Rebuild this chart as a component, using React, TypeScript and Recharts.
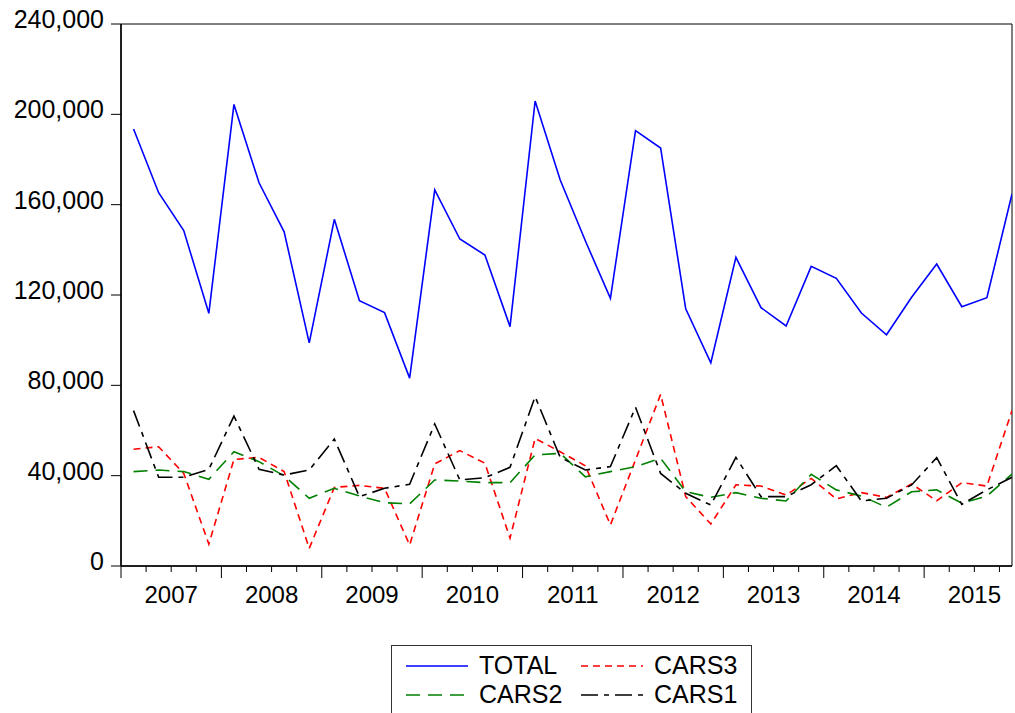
import React from 'react';
import { LineChart, Line, XAxis, YAxis, ReferenceArea, Legend } from 'recharts';

const years = ['2007', '2008', '2009', '2010', '2011', '2012', '2013', '2014', '2015'];
const quartersPerYear = 4;

const total = [
  193500, 165300, 148500, 111900, 204400, 169700, 148000, 98800,
  153500, 117500, 112200, 83200, 166500, 144800, 137700, 106000,
  205900, 170900, 144000, 118500, 192800, 185100, 113900, 90000,
  136700, 114400, 106300, 132700, 127400, 112000, 102400, 119000,
  133700, 114800, 118800, 164700,
];
const cars3 = [
  51700, 52800, 41000, 9700, 47200, 48100, 41800, 7800,
  34800, 35700, 34400, 9300, 45200, 51100, 45500, 12300,
  56500, 50600, 44400, 18200, 47000, 76000, 30700, 18600,
  35900, 35400, 31400, 38800, 29700, 32500, 30400, 36300,
  28900, 36900, 35400, 68800,
];
const cars2 = [
  41800, 42500, 41800, 38400, 50600, 46200, 39900, 30000,
  34400, 31000, 28000, 27500, 38100, 37600, 36900, 36900,
  49200, 49900, 39500, 41800, 44000, 47700, 32900, 30400,
  32500, 30000, 28800, 40600, 33700, 31000, 26000, 32900,
  33700, 27800, 31000, 40700,
];
const cars1 = [
  68800, 39300, 39300, 42800, 66400, 42800, 40300, 42500,
  56200, 30700, 34400, 36200, 62900, 38100, 39100, 43700,
  75000, 48100, 42500, 44000, 70300, 41000, 32200, 27000,
  48100, 30700, 30700, 36000, 44400, 28800, 30000, 35900,
  48000, 27300, 33700, 39300,
];
const yTicks = [0, 40000, 80000, 120000, 160000, 200000, 240000];

const series = [
  { key: 'total', name: 'TOTAL', color: '#0000ff', dash: undefined as string | undefined },
  { key: 'cars3', name: 'CARS3', color: '#ff0000', dash: '7 5' },
  { key: 'cars2', name: 'CARS2', color: '#008000', dash: '14 8' },
  { key: 'cars1', name: 'CARS1', color: '#000000', dash: '17 6 5 6' },
];

const data = total.map((v, i) => ({
  t: i,
  label: `${years[Math.floor(i / quartersPerYear)]}Q${(i % quartersPerYear) + 1}`,
  total: v,
  cars3: cars3[i],
  cars2: cars2[i],
  cars1: cars1[i],
}));

const n = data.length;
const xTicks: number[] = [];
for (let k = -1; k < n - 1; k++) xTicks.push(k + 0.5);

const FONT = '"Liberation Sans", Arial, sans-serif';

const XTick = (props: any) => {
  const { x, y, payload } = props;
  const v = payload.value as number;
  const isMajor = Math.abs(((v + 0.5) % quartersPerYear)) < 1e-6;
  const isCenter = Math.abs(((v - 1.5) % quartersPerYear)) < 1e-6;
  const yr = isCenter ? years[Math.round((v - 1.5) / quartersPerYear)] : null;
  return (
    <g>
      <line x1={x} y1={y} x2={x} y2={y + (isMajor ? 12 : 6)} stroke="#000" strokeWidth={1} />
      {yr && (
        <text x={x} y={y + 37} textAnchor="middle" fontSize={24} fontFamily={FONT} fill="#000">
          {yr}
        </text>
      )}
    </g>
  );
};

const YTick = (props: any) => {
  const { x, y, payload } = props;
  return (
    <text x={x} y={y + 4} textAnchor="end" fontSize={25} fontFamily={FONT} fill="#000">
      {Number(payload.value).toLocaleString('en-US')}
    </text>
  );
};

const LegendBox = () => {
  const cols = [14, 189];
  const rows = [19, 48];
  return (
    <div style={{ width: 361, height: 80, border: '1.5px solid #333', boxSizing: 'border-box', background: '#fff' }}>
      <svg width={358} height={77} style={{ display: 'block' }}>
        {series.map((s, i) => {
          const cx = cols[i % 2];
          const cy = rows[Math.floor(i / 2)];
          return (
            <g key={s.key}>
              <line x1={cx} y1={cy + 1} x2={cx + 62} y2={cy + 1} stroke={s.color} strokeWidth={1.5} strokeDasharray={s.dash} />
              <text x={cx + 73} y={cy + 9} fontSize={25} fontFamily={FONT} fill="#000">
                {s.name}
              </text>
            </g>
          );
        })}
      </svg>
    </div>
  );
};

export default function App() {
  return (
    <div style={{ position: 'absolute', left: 0, top: 0, width: 1015, height: 713, overflow: 'hidden', background: '#fff' }}>
      <LineChart width={1015} height={713} data={data} margin={{ top: 24, right: 3, bottom: 87, left: 0 }}>
        <XAxis
          dataKey="t"
          type="number"
          domain={[-0.5, n - 1]}
          ticks={xTicks}
          interval={0}
          tick={<XTick />}
          tickLine={false}
          tickSize={0}
          tickMargin={0}
          height={60}
          axisLine={{ stroke: '#000', strokeWidth: 1.5 }}
          allowDataOverflow
        />
        <YAxis
          type="number"
          domain={[0, 240000]}
          ticks={yTicks}
          interval={0}
          width={121}
          tickSize={10}
          tickMargin={7}
          tick={<YTick />}
          tickLine={{ stroke: '#000' }}
          axisLine={{ stroke: '#000', strokeWidth: 1.5 }}
        />
        <ReferenceArea x1={-0.5} x2={n - 1} y1={0} y2={240000} fill="none" stroke="#000" strokeWidth={1} ifOverflow="visible" />
        {series.map((s) => (
          <Line
            key={s.key}
            type="linear"
            dataKey={s.key}
            name={s.name}
            stroke={s.color}
            strokeWidth={1.6}
            strokeDasharray={s.dash}
            dot={false}
            activeDot={false}
            isAnimationActive={false}
          />
        ))}
        <Legend
          layout="horizontal"
          verticalAlign="middle"
          align="center"
          content={<LegendBox />}
          wrapperStyle={{ left: 391, top: 645, width: 361, height: 80 }}
        />
      </LineChart>
    </div>
  );
}
